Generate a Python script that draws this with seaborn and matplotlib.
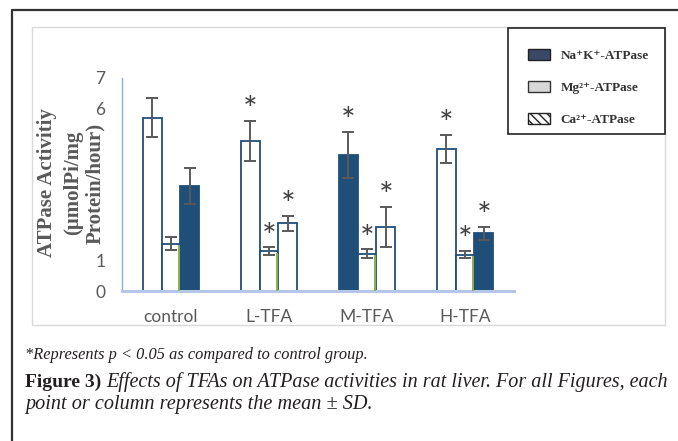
import matplotlib
matplotlib.use("Agg")
import matplotlib.pyplot as plt
import seaborn as sns
import pandas as pd
from matplotlib.patches import Patch, Rectangle
from matplotlib.lines import Line2D

# ---------------- data ----------------
groups = ["control", "L-TFA", "M-TFA", "H-TFA"]
enzymes = ["Na⁺K⁺-ATPase", "Mg²⁺-ATPase", "Ca²⁺-ATPase"]
na_mean = [5.70, 4.93, 4.47, 4.66]
na_sd = [0.64, 0.67, 0.76, 0.46]
mg_mean = [1.55, 1.31, 1.22, 1.19]
mg_sd = [0.21, 0.12, 0.15, 0.12]
ca_mean = [3.45, 2.23, 2.10, 1.90]
ca_sd = [0.60, 0.25, 0.66, 0.21]
significant = [False, True, True, True]
y_ticks = [0, 1, 2, 3, 4, 5, 6, 7]
y_tick_labels = ["0", "1", "", "", "", "", "6", "7"]
y_label_lines = ["ATPase Activitiy", "(μmolPi/mg", "Protein/hour)"]

means = [na_mean, mg_mean, ca_mean]
sds = [na_sd, mg_sd, ca_sd]
rows = []
for e, m, s in zip(enzymes, means, sds):
    for g, mv, sv in zip(groups, m, s):
        rows.append({"group": g, "enzyme": e, "value": mv, "sd": sv})
df = pd.DataFrame(rows)

# ---------------- style ----------------
W, H = 678, 441
DARK = "#1f4e79"
GREY = "#595959"
dark_fill = [[False, False, True, False],   # Na+K+
             [False, False, False, False],  # Mg2+
             [True, False, False, True]]    # Ca2+

sns.set_theme(style="white")
plt.rcParams["font.family"] = ["Lato", "DejaVu Sans"]

fig = plt.figure(figsize=(W / 100, H / 100), dpi=100)
fig.patch.set_facecolor("white")

def fx(px):
    return px / W

def fy(py):
    return 1 - py / H

ax = fig.add_axes([fx(122), fy(291), fx(514) - fx(122), fy(78) - fy(291)])

sns.barplot(data=df, x="group", y="value", hue="enzyme", order=groups,
            hue_order=enzymes, errorbar=None, width=0.58, legend=False,
            ax=ax, saturation=1)

bar_containers = list(ax.containers)
for i, cont in enumerate(bar_containers):
    for j, bar in enumerate(cont.patches):
        bar.set_facecolor(DARK if dark_fill[i][j] else "white")
        bar.set_edgecolor(DARK)
        bar.set_linewidth(1.3)
        x = bar.get_x() + bar.get_width() / 2
        top = means[i][j]
        if i == 1:
            ax.vlines(bar.get_x() + bar.get_width() - 0.012, 0,
                      top - 0.05, color="#8db04a", lw=1.4, zorder=3)
        ax.errorbar(x, top, yerr=sds[i][j], fmt="none", ecolor=GREY,
                    elinewidth=1.4, capsize=4, capthick=1.4, zorder=5)
        if significant[j]:
            ax.annotate("*", xy=(x, top + sds[i][j]), xytext=(0, 7),
                        textcoords="offset points", ha="center", va="center",
                        fontsize=25, color="#404040")

ax.set_xlim(-0.5, 3.5)
ax.set_ylim(0, 7)
ax.set_yticks(y_ticks)
ax.set_yticklabels(y_tick_labels)
ax.set_xlabel("")
ax.set_ylabel("")
ax.tick_params(axis="y", length=0, pad=12, labelsize=12.5, labelcolor=GREY)
ax.tick_params(axis="x", length=0, pad=13, labelsize=12.5, labelcolor=GREY)
for s in ["top", "right"]:
    ax.spines[s].set_visible(False)
ax.spines["left"].set_color("#8eaadb")
ax.spines["left"].set_linewidth(1.0)
ax.spines["bottom"].set_color("#b4c7e7")
ax.spines["bottom"].set_linewidth(2.2)
ax.set_facecolor("none")

# y label, one text per line (as in the reference)
for xp, line in zip([47, 73, 95], y_label_lines):
    fig.text(fx(xp), fy(183), line, rotation=90, ha="center", va="center",
             fontsize=15, fontweight="bold", color=GREY,
             family=["Liberation Serif", "DejaVu Serif"])

# frames
fig.add_artist(Line2D([fx(12), fx(12), fx(678)], [fy(441), fy(10), fy(10)],
                      color="#333333", lw=1.6))
fig.add_artist(Rectangle((fx(32), fy(325)), fx(665) - fx(32), fy(27) - fy(325),
                         fill=False, edgecolor="#d9d9d9", lw=1.0))
fig.add_artist(Rectangle((fx(508), fy(134)), fx(665) - fx(508), fy(28) - fy(134),
                         facecolor="white", edgecolor="#222222", lw=1.2, zorder=3))

# legend
handles = [Patch(facecolor="#3c4868", edgecolor="#222222", lw=1.0),
           Patch(facecolor="#d8d8d8", edgecolor="#333333", lw=1.0),
           Patch(facecolor="white", edgecolor="#222222", lw=1.0, hatch="\\\\\\\\")]
leg = fig.legend(handles, enzymes, loc="upper left",
                 bbox_to_anchor=(fx(521), fy(42)), frameon=False,
                 borderpad=0, handlelength=1.7, handleheight=0.9,
                 handletextpad=0.8, labelspacing=1.45,
                 prop={"family": ["Liberation Serif", "DejaVu Serif"],
                       "weight": "bold", "size": 9.5})
leg.set_zorder(4)
for t in leg.get_texts():
    t.set_color("#333333")

# captions
cap_font = ["Liberation Serif", "DejaVu Serif"]
fig.text(fx(25), fy(355), "*Represents p < 0.05 as compared to control group.",
         ha="left", va="center", fontsize=11.8, style="italic",
         color="#231f20", family=cap_font)
fig.text(fx(25), fy(382), "Figure 3)", ha="left", va="center", fontsize=14,
         fontweight="bold", color="#231f20", family=cap_font)
fig.text(fx(106), fy(382),
         "Effects of TFAs on ATPase activities in rat liver. For all Figures, each",
         ha="left", va="center", fontsize=14.5, style="italic",
         color="#231f20", family=cap_font)
fig.text(fx(25), fy(405), "point or column represents the mean ± SD.",
         ha="left", va="center", fontsize=14.6, style="italic",
         color="#231f20", family=cap_font)

fig.savefig("out.png", dpi=100)
